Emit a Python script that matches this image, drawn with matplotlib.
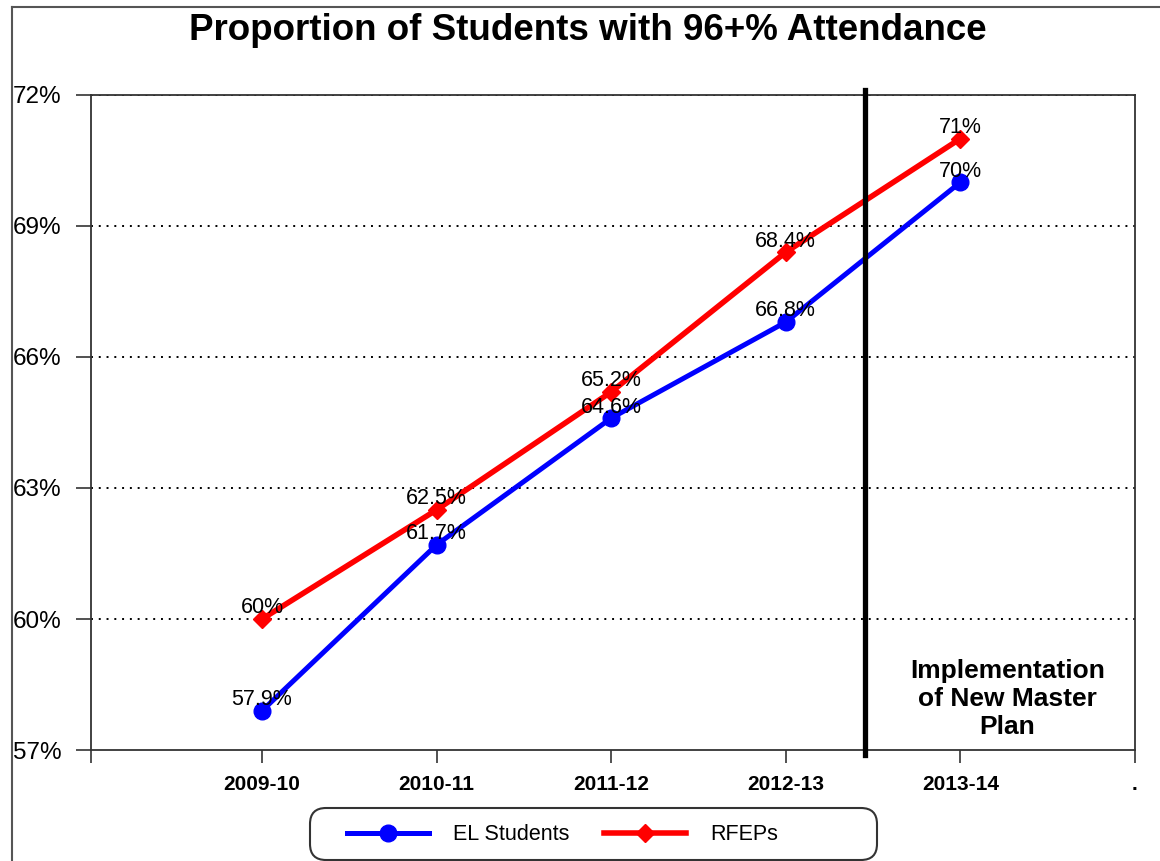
import matplotlib.pyplot as plt
from matplotlib.lines import Line2D
from matplotlib.patches import FancyBboxPatch
from matplotlib.transforms import IdentityTransform

plt.rcParams['font.family'] = ['Liberation Sans', 'DejaVu Sans']

# data
years = ['2009-10', '2010-11', '2011-12', '2012-13', '2013-14']
el_students = [57.9, 61.7, 64.6, 66.8, 70.0]
rfeps = [60.0, 62.5, 65.2, 68.4, 71.0]
el_labels = ['57.9%', '61.7%', '64.6%', '66.8%', '70%']
rfep_labels = ['60%', '62.5%', '65.2%', '68.4%', '71%']
y_ticks = [57, 60, 63, 66, 69, 72]

fig = plt.figure(figsize=(11.6, 8.61), dpi=100)
ax = fig.add_axes([0.0784, 0.1289, 0.9, 0.7608])

x = list(range(len(years)))
ax.plot(x, el_students, color='#0000ff', lw=3.6, marker='o', markersize=12,
        label='EL Students', zorder=4)
ax.plot(x, rfeps, color='#ff0000', lw=4, marker='D', markersize=9.5,
        label='RFEPs', zorder=4)

for xi, v, t in zip(x, el_students, el_labels):
    ax.annotate(t, (xi, v), xytext=(0, 4), textcoords='offset points',
                ha='center', va='baseline', fontsize=15.5, zorder=5)
for xi, v, t in zip(x, rfeps, rfep_labels):
    ax.annotate(t, (xi, v), xytext=(0, 4), textcoords='offset points',
                ha='center', va='baseline', fontsize=15.5, zorder=5)

ax.set_ylim(57, 72)
ax.set_xlim(-0.98, 5)
ax.set_yticks(y_ticks)
ax.set_yticklabels([f'{v}%' for v in y_ticks], fontsize=17.5)
ax.set_xticks([-0.98] + x + [5])
ax.set_xticklabels([''] + years + ['.'], fontsize=15, fontweight='bold')
ax.tick_params(axis='y', length=11, width=1.2, pad=10, color='#333333')
ax.tick_params(axis='x', length=9, width=1.2, pad=9, color='#333333')

# dotted grid
for v in y_ticks[1:]:
    ax.axhline(v, color='black', lw=1.4, ls=(0, (1, 3)), zorder=2)

for s in ax.spines.values():
    s.set_color('#333333')
    s.set_linewidth(1.3)

# implementation marker
ax.plot([3.455, 3.455], [56.88, 72.12], color='black', lw=3.8, clip_on=False, zorder=6)
ax.text(4.27, 58.17, 'Implementation\nof New Master\nPlan', ha='center', va='center',
        fontsize=19, fontweight='bold', linespacing=1.2)

fig.text(0.507, 0.965, 'Proportion of Students with 96+% Attendance', ha='center',
         va='center', fontsize=26.5, fontweight='bold')

# legend without its own frame, rounded box drawn separately
leg = fig.legend(*ax.get_legend_handles_labels(), loc='center left',
                 bbox_to_anchor=(336 / 1160, 26 / 861), ncol=2, fontsize=15.5,
                 frameon=False, handlelength=3.8, columnspacing=1.6,
                 borderpad=0, handletextpad=1.15)
box = FancyBboxPatch((310, 1), 567, 52, boxstyle='round,pad=0,rounding_size=16',
                     transform=IdentityTransform(), facecolor='none',
                     edgecolor='#333333', lw=1.5)
fig.add_artist(box)

# page border
fig.add_artist(Line2D([0.0103, 0.0103], [0, 0.992], color='#555555', lw=1.5))
fig.add_artist(Line2D([0.0103, 1], [0.992, 0.992], color='#555555', lw=1.5))

fig.savefig('out.png', dpi=100)
